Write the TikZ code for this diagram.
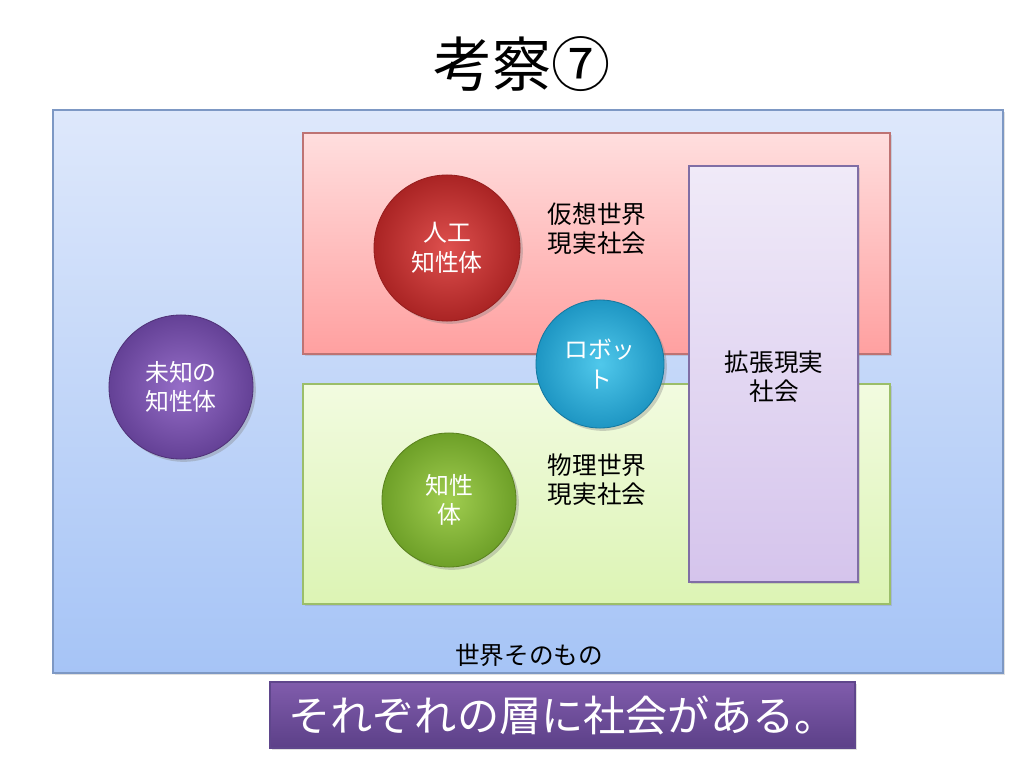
\documentclass[tikz,border=0pt]{standalone}
\usepackage{fontspec}
\setmainfont{Noto Sans CJK JP}
\usetikzlibrary{fit,shadows}
\tikzset{
  box/.style={inner sep=0pt, line width=0.8pt, drop shadow={opacity=0.25, shadow xshift=1.2pt, shadow yshift=-1.2pt}},
  ballnode/.style={circle, inner sep=0pt, minimum size=#1*0.7113pt, line width=0.6pt, align=center, text=white, font=\fontsize{17}{21}\selectfont, drop shadow={opacity=0.35, shadow xshift=2pt, shadow yshift=-2pt}},
  lbl/.style={align=center, font=\fontsize{17.5}{20.6}\selectfont, inner sep=0pt}
}
\begin{document}
\begin{tikzpicture}[x=0.025cm, y=-0.025cm]
\useasboundingbox[fill=white] (0,0) rectangle (1024,768);
% title
\node[font=\fontsize{42}{46}\selectfont, inner sep=0pt] (title) at (522,64) {考察⑦};
% world
\node[box, fit={(53,110) (1003,673)}, draw={rgb,255:red,125;green,152;blue,196}, top color={rgb,255:red,222;green,232;blue,251}, bottom color={rgb,255:red,166;green,196;blue,246}] (world) {};
% virtual
\node[box, fit={(303,133) (890,354)}, draw={rgb,255:red,190;green,115;blue,115}, top color={rgb,255:red,255;green,222;blue,222}, bottom color={rgb,255:red,255;green,160;blue,160}] (virtual) {};
% physical
\node[box, fit={(303,384) (890,604)}, draw={rgb,255:red,155;green,190;blue,105}, top color={rgb,255:red,242;green,251;blue,224}, bottom color={rgb,255:red,220;green,244;blue,180}] (physical) {};
% augmented
\node[box, fit={(689,166) (858,582)}, draw={rgb,255:red,128;green,110;blue,165}, top color={rgb,255:red,240;green,234;blue,248}, bottom color={rgb,255:red,213;green,196;blue,236}] (augmented) {};
% labels
\node[lbl] (vlabel) at (597,229) {仮想世界\\現実社会};
\node[lbl] (plabel) at (597,480) {物理世界\\現実社会};
\node[lbl] (alabel) at (774,377) {拡張現実\\社会};
\node[lbl] (wlabel) at (529,655) {世界そのもの};
% balls
\node[ballnode=146, draw={rgb,255:red,150;green,30;blue,30}, inner color={rgb,255:red,222;green,80;blue,78}, outer color={rgb,255:red,170;green,36;blue,36}] (ai) at (447,248) {人工\\知性体};
\node[ballnode=144, draw={rgb,255:red,80;green,50;blue,120}, inner color={rgb,255:red,150;green,110;blue,200}, outer color={rgb,255:red,100;green,65;blue,150}] (unknown) at (181,387) {未知の\\知性体};
\node[ballnode=128, draw={rgb,255:red,20;green,120;blue,160}, inner color={rgb,255:red,80;green,200;blue,235}, outer color={rgb,255:red,30;green,150;blue,195}] (robot) at (600,364) {ロボッ\\ト};
\node[ballnode=134, draw={rgb,255:red,90;green,130;blue,30}, inner color={rgb,255:red,160;green,205;blue,80}, outer color={rgb,255:red,110;green,160;blue,40}] (human) at (449,500) {知性\\体};
% bottom banner
\node[box, fit={(270,682) (855,748)}, draw={rgb,255:red,95;green,70;blue,140}, top color={rgb,255:red,128;green,92;blue,172}, bottom color={rgb,255:red,92;green,64;blue,136}] (banner) {};
\node[font=\fontsize{30}{34}\selectfont, text=white, inner sep=0pt] (btext) at (banner.center) {それぞれの層に社会がある。};
\end{tikzpicture}
\end{document}
